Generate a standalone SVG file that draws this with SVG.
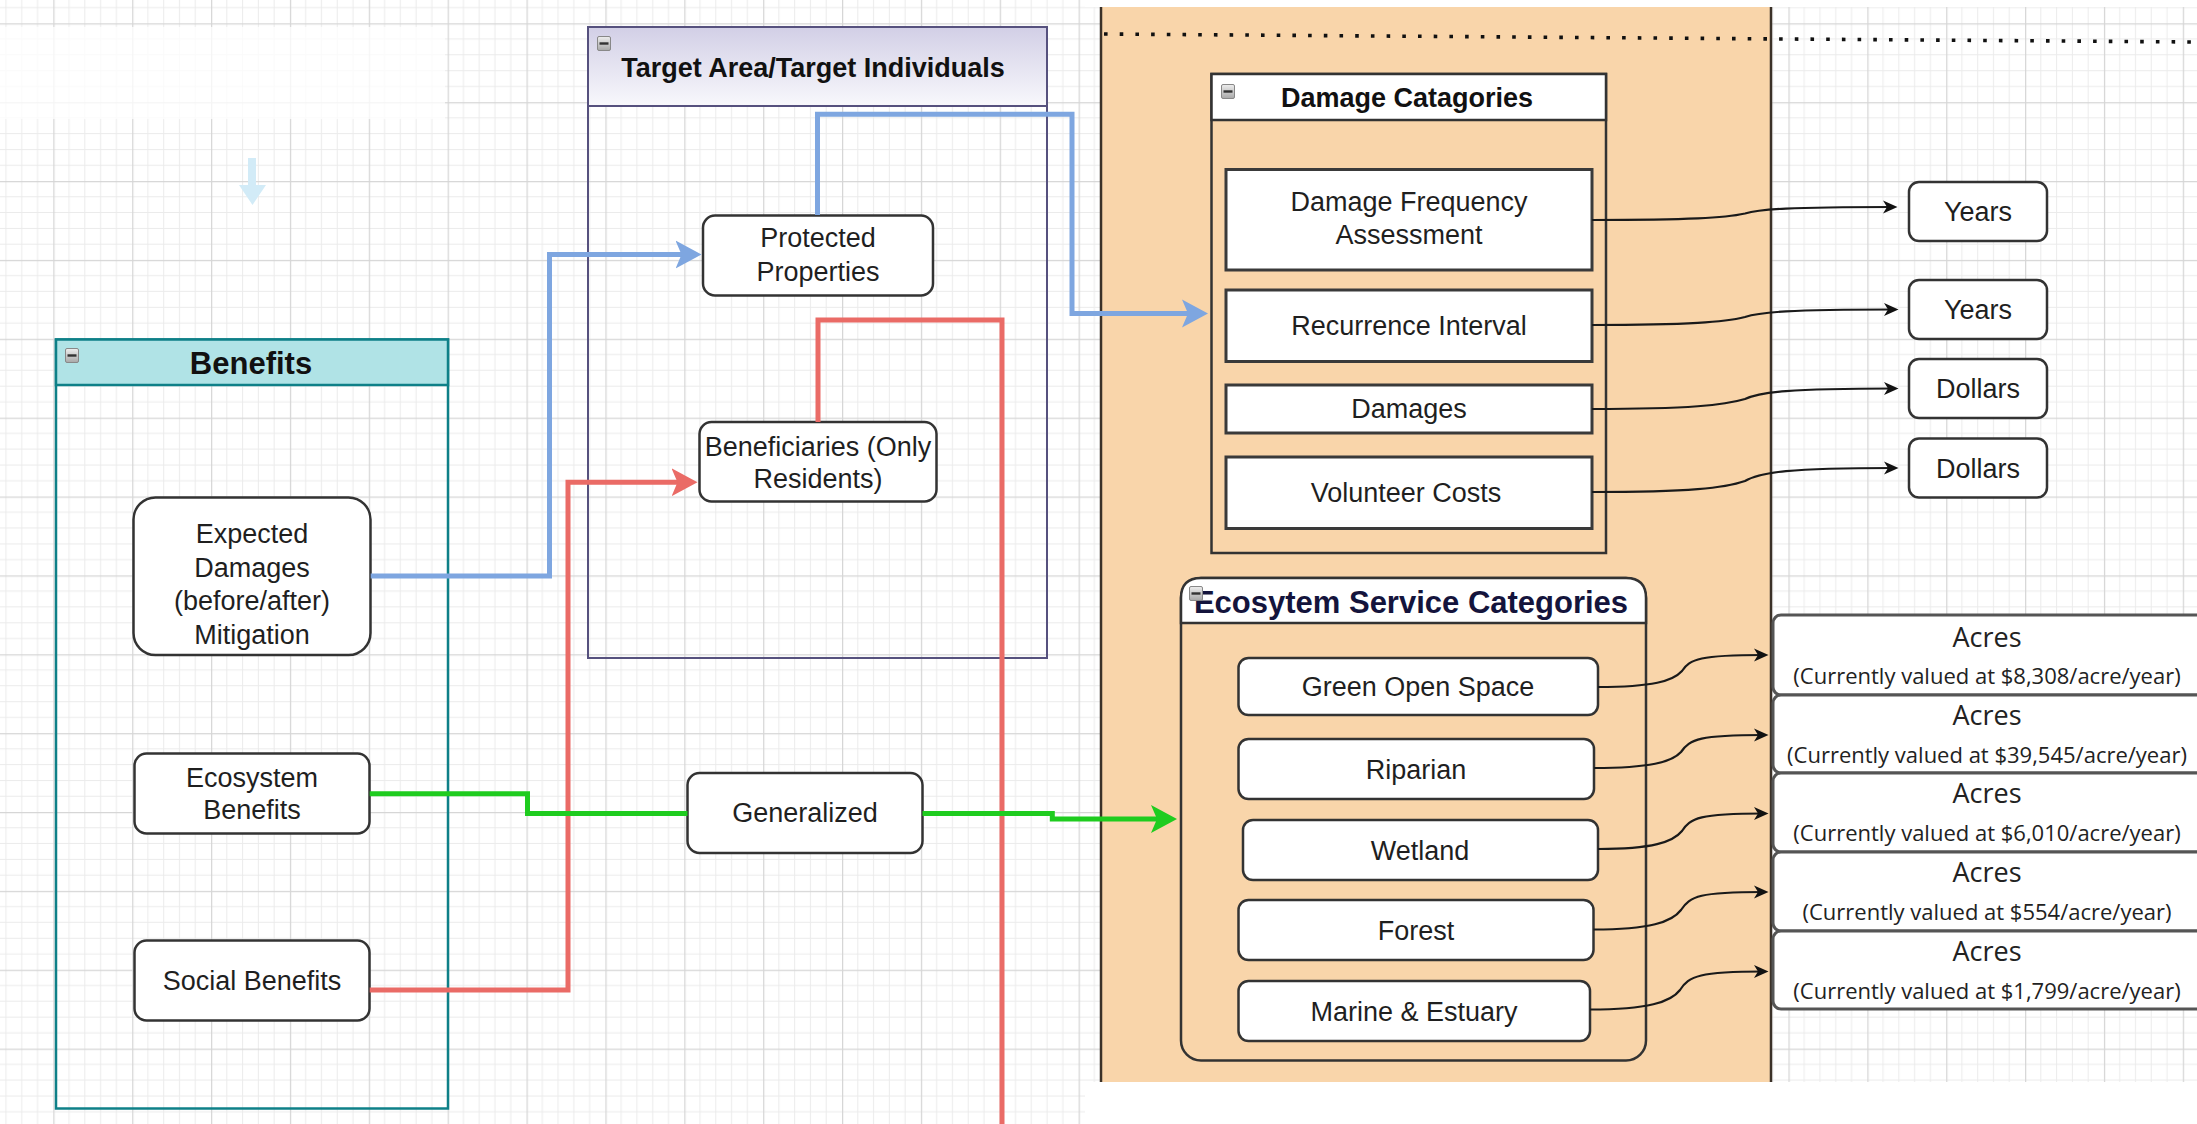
<svg xmlns="http://www.w3.org/2000/svg" width="2197" height="1124" viewBox="0 0 2197 1124">
<style>
text{font-family:"Liberation Sans",Arial,sans-serif;fill:#1f1f1f}
.t{font-size:27px;text-anchor:middle}
.title{font-weight:bold;font-size:27px;text-anchor:middle;fill:#111}
.nb{fill:#fff;stroke:#333;stroke-width:2.5}
.sq{fill:#fff;stroke:#3a3a3a;stroke-width:3}
.ac{fill:#fff;stroke:#555;stroke-width:3}
.os{font-family:"Open Sans","Liberation Sans",sans-serif;text-anchor:middle;fill:#222}
.blue{fill:none;stroke:#7ea6e0;stroke-width:5}
.red{fill:none;stroke:#ea6b66;stroke-width:5}
.green{fill:none;stroke:#1fcc1f;stroke-width:5}
.blk{fill:none;stroke:#1a1a1a;stroke-width:2.2}
</style>
<defs>
<pattern id="grid" x="53.3" y="23.3" width="78.87" height="78.87" patternUnits="userSpaceOnUse">
<path d="M15.77 0V78.87M31.55 0V78.87M47.32 0V78.87M63.1 0V78.87M0 15.77H78.87M0 31.55H78.87M0 47.32H78.87M0 63.1H78.87" stroke="#ebebeb" stroke-width="1"/>
<path d="M0.6 0V78.87M0 0.6H78.87" stroke="#d6d6d6" stroke-width="1.3"/>
</pattern>
<linearGradient id="lav" x1="0" y1="0" x2="0" y2="1"><stop offset="0" stop-color="#d2cfe6"/><stop offset="1" stop-color="#f8f8fc"/></linearGradient>
<linearGradient id="ico" x1="0" y1="0" x2="0" y2="1"><stop offset="0" stop-color="#eeeeee"/><stop offset="1" stop-color="#a8a8a8"/></linearGradient>
<symbol id="minus" viewBox="0 0 14 15" width="14" height="15"><rect x="0.5" y="0.5" width="13" height="14" rx="1.5" fill="url(#ico)" stroke="#888"/><rect x="2.5" y="6.3" width="9" height="2.4" fill="#333"/></symbol>
<marker id="aBlue" markerUnits="userSpaceOnUse" markerWidth="27" markerHeight="30" viewBox="0 0 27 30" refX="14" refY="15" orient="auto"><path d="M0 1L26 15L0 29L6 15Z" fill="#7ea6e0"/></marker>
<marker id="aRed" markerUnits="userSpaceOnUse" markerWidth="27" markerHeight="30" viewBox="0 0 27 30" refX="14" refY="15" orient="auto"><path d="M0 1L26 15L0 29L6 15Z" fill="#ea6b66"/></marker>
<marker id="aGreen" markerUnits="userSpaceOnUse" markerWidth="27" markerHeight="30" viewBox="0 0 27 30" refX="14" refY="15" orient="auto"><path d="M0 1L26 15L0 29L6 15Z" fill="#1fcc1f"/></marker>
<marker id="aBlk" markerUnits="userSpaceOnUse" markerWidth="15" markerHeight="14" viewBox="0 0 15 14" refX="9" refY="7" orient="auto"><path d="M0 0.5L14.5 7L0 13.5L4 7Z" fill="#111"/></marker>
</defs>

<rect width="2197" height="1124" fill="#fff"/>
<rect width="2197" height="1124" fill="url(#grid)"/>
<rect x="0" y="27" width="445" height="92" fill="#fff" opacity="0.75"/>
<rect x="1085" y="1082" width="1112" height="42" fill="#fff"/>
<rect x="1085" y="0" width="1112" height="7" fill="#fff"/>

<g id="panel-orange">
<rect x="1101" y="7" width="670" height="1075" fill="#f9d5aa"/>
<path d="M1101 7V1082M1771 7V1082" stroke="#3b3128" stroke-width="2.5"/>
<path d="M1104 34L2197 42" stroke="#111" stroke-width="3.6" stroke-dasharray="3.6 12.1"/>
</g>

<g id="benefits">
<rect x="56" y="339.5" width="392" height="769" fill="none" stroke="#0e8088" stroke-width="2.5"/>
<rect x="56" y="339.5" width="392" height="45.5" fill="#b0e3e6" stroke="#0e8088" stroke-width="2.5"/>
<use href="#minus" x="65" y="348"/>
<text x="251" y="374" style="font-weight:bold;font-size:31px;text-anchor:middle;fill:#111">Benefits</text>
</g>

<g id="target-area">
<rect x="588" y="27" width="459" height="631" fill="none" stroke="#56517e" stroke-width="2"/>
<rect x="588" y="27" width="459" height="79" fill="url(#lav)" stroke="#56517e" stroke-width="2"/>
<use href="#minus" x="597" y="36"/>
<text x="813" y="77" class="title">Target Area/Target Individuals</text>
</g>

<g id="expected-damages">
<rect x="133.5" y="497.5" width="237" height="157.5" rx="22" class="nb"/>
<text class="t"><tspan x="252" y="543">Expected</tspan><tspan x="252" y="576.5">Damages</tspan><tspan x="252" y="610">(before/after)</tspan><tspan x="252" y="643.5">Mitigation</tspan></text>
</g>
<g id="ecosystem-benefits">
<rect x="134.5" y="753.5" width="235" height="80" rx="12" class="nb"/>
<text class="t"><tspan x="252" y="786.5">Ecosystem</tspan><tspan x="252" y="819">Benefits</tspan></text>
</g>
<g id="social-benefits">
<rect x="134.5" y="940.5" width="235" height="80" rx="12" class="nb"/>
<text x="252" y="989.5" class="t">Social Benefits</text>
</g>

<g id="protected-properties">
<rect x="703" y="215.5" width="230" height="80" rx="12" class="nb"/>
<text class="t"><tspan x="818" y="247">Protected</tspan><tspan x="818" y="281">Properties</tspan></text>
</g>
<g id="beneficiaries">
<rect x="699.5" y="422" width="237" height="79.5" rx="12" class="nb"/>
<text class="t"><tspan x="818" y="455.5">Beneficiaries (Only</tspan><tspan x="818" y="488">Residents)</tspan></text>
</g>
<g id="generalized">
<rect x="687.5" y="773" width="235" height="80" rx="12" class="nb"/>
<text x="805" y="821.5" class="t">Generalized</text>
</g>

<g id="damage-categories">
<rect x="1211.5" y="74" width="394.5" height="479" fill="none" stroke="#333" stroke-width="2.5"/>
<rect x="1211.5" y="74" width="394.5" height="46" fill="#fff" stroke="#333" stroke-width="2.5"/>
<use href="#minus" x="1221" y="84"/>
<text x="1407" y="106.5" class="title">Damage Catagories</text>
</g>
<g id="damage-frequency">
<rect x="1226" y="169.5" width="366" height="100.5" class="sq"/>
<text class="t"><tspan x="1409" y="211">Damage Frequency</tspan><tspan x="1409" y="243.5">Assessment</tspan></text>
</g>
<g id="recurrence-interval">
<rect x="1226" y="290" width="366" height="71.5" class="sq"/>
<text x="1409" y="334.5" class="t">Recurrence Interval</text>
</g>
<g id="damages">
<rect x="1226" y="385" width="366" height="48" class="sq"/>
<text x="1409" y="417.5" class="t">Damages</text>
</g>
<g id="volunteer-costs">
<rect x="1226" y="457" width="366" height="71.5" class="sq"/>
<text x="1406" y="501.5" class="t">Volunteer Costs</text>
</g>

<g id="years-1"><rect x="1909" y="182" width="138" height="59" rx="10" class="nb"/><text x="1978" y="221" class="t">Years</text></g>
<g id="years-2"><rect x="1909" y="280" width="138" height="59" rx="10" class="nb"/><text x="1978" y="319" class="t">Years</text></g>
<g id="dollars-1"><rect x="1909" y="359" width="138" height="59" rx="10" class="nb"/><text x="1978" y="398" class="t">Dollars</text></g>
<g id="dollars-2"><rect x="1909" y="438.5" width="138" height="59" rx="10" class="nb"/><text x="1978" y="477.5" class="t">Dollars</text></g>

<g id="ecosystem-service-categories">
<rect x="1181" y="578" width="465" height="482.5" rx="20" fill="none" stroke="#333" stroke-width="2.5"/>
<path d="M1181 623V598Q1181 578 1201 578H1626Q1646 578 1646 598V623Z" fill="#fff" stroke="#333" stroke-width="2.5"/>
<text x="1411" y="613" style="font-weight:bold;font-size:31px;text-anchor:middle;fill:#14143c">Ecosytem Service Categories</text>
<use href="#minus" x="1189" y="586"/>
</g>
<g id="green-open-space"><rect x="1238.5" y="658" width="359.5" height="57" rx="10" class="nb"/><text x="1418" y="696" class="t">Green Open Space</text></g>
<g id="riparian"><rect x="1238.5" y="739" width="355.5" height="60" rx="10" class="nb"/><text x="1416" y="778.5" class="t">Riparian</text></g>
<g id="wetland"><rect x="1243" y="820" width="355" height="60" rx="10" class="nb"/><text x="1420" y="859.5" class="t">Wetland</text></g>
<g id="forest"><rect x="1238.5" y="900" width="355" height="60" rx="10" class="nb"/><text x="1416" y="939.5" class="t">Forest</text></g>
<g id="marine-estuary"><rect x="1238.5" y="981" width="351.5" height="60" rx="10" class="nb"/><text x="1414" y="1020.5" class="t">Marine &amp; Estuary</text></g>

<g id="acres-1"><rect x="1773" y="615" width="440" height="80" rx="8" class="ac"/><text class="os"><tspan x="1987" y="646.5" font-size="27">Acres</tspan><tspan x="1987" y="684" font-size="22">(Currently valued at $8,308/acre/year)</tspan></text></g>
<g id="acres-2"><rect x="1773" y="695" width="440" height="78" rx="8" class="ac"/><text class="os"><tspan x="1987" y="724.5" font-size="27">Acres</tspan><tspan x="1987" y="763" font-size="22">(Currently valued at $39,545/acre/year)</tspan></text></g>
<g id="acres-3"><rect x="1773" y="773" width="440" height="79" rx="8" class="ac"/><text class="os"><tspan x="1987" y="802.5" font-size="27">Acres</tspan><tspan x="1987" y="841" font-size="22">(Currently valued at $6,010/acre/year)</tspan></text></g>
<g id="acres-4"><rect x="1773" y="852" width="440" height="79" rx="8" class="ac"/><text class="os"><tspan x="1987" y="881.5" font-size="27">Acres</tspan><tspan x="1987" y="920" font-size="22">(Currently valued at $554/acre/year)</tspan></text></g>
<g id="acres-5"><rect x="1773" y="931" width="440" height="78" rx="8" class="ac"/><text class="os"><tspan x="1987" y="960.5" font-size="27">Acres</tspan><tspan x="1987" y="999" font-size="22">(Currently valued at $1,799/acre/year)</tspan></text></g>

<g id="connectors">
<path d="M252 158V186" stroke="#d2ebf7" stroke-width="8" fill="none"/>
<path d="M239 185H266L252.5 205Z" fill="#d2ebf7"/>
<path class="blue" d="M370.7 576H549.5V254.6H689.5" marker-end="url(#aBlue)"/>
<path class="blue" d="M817.5 215V114.3H1072V313.6H1196" marker-end="url(#aBlue)"/>
<path class="red" d="M369.7 990H568V482.3H685.5" marker-end="url(#aRed)"/>
<path class="red" d="M818 422V320H1002V1130"/>
<path class="green" d="M369.7 793.8H527.5V813.6H687.5"/>
<path class="green" d="M922.5 813.6H1052.3V819H1165" marker-end="url(#aGreen)"/>
<path class="blk" d="M1592 220C1690 220 1725 218 1745 213.5C1760 209 1790 207 1892 207" marker-end="url(#aBlk)"/>
<path class="blk" d="M1592 325C1690 325 1725 322 1745 317C1760 312 1790 309.5 1893 309.5" marker-end="url(#aBlk)"/>
<path class="blk" d="M1592 409C1690 409 1725 405 1745 399C1760 392 1790 388.5 1893 388.5" marker-end="url(#aBlk)"/>
<path class="blk" d="M1592 492C1690 492 1725 488 1745 481C1760 472 1790 468 1893 468" marker-end="url(#aBlk)"/>
<path class="blk" d="M1598 687C1653 687 1673 681 1682 671C1690 659 1700 655 1763 655" marker-end="url(#aBlk)"/>
<path class="blk" d="M1594 768C1650 768 1672 762 1681 752C1690 739 1700 735 1763 735" marker-end="url(#aBlk)"/>
<path class="blk" d="M1598 849C1653 849 1673 842 1682 831C1690 818 1700 813.5 1763 813.5" marker-end="url(#aBlk)"/>
<path class="blk" d="M1593.5 929.5C1650 929.5 1672 922 1681 910C1690 896 1700 892 1763 892" marker-end="url(#aBlk)"/>
<path class="blk" d="M1590 1009.5C1648 1009.5 1671 1002 1680 990C1689 976 1700 971.5 1763 971.5" marker-end="url(#aBlk)"/>
</g>
</svg>
